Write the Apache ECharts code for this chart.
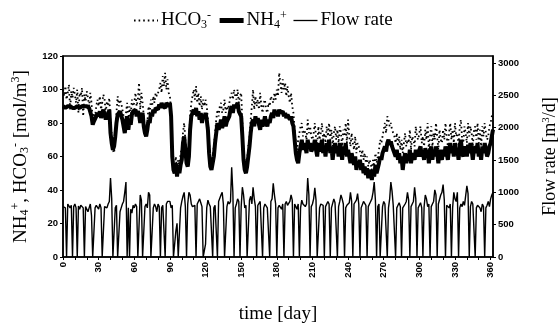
<!DOCTYPE html>
<html><head><meta charset="utf-8">
<script src="https://cdn.jsdelivr.net/npm/echarts@6/dist/echarts.min.js"></script>
<style>html,body{margin:0;padding:0;background:#fff}#c{width:560px;height:325px}</style>
</head><body><div id="c"></div>
<script>
// time [day] categories, one per day 0..362
const days = Array.from({length:363}, (_, i) => String(i));

// NH4+ [mol/m3], daily
const nh4 = [
  90,90,89,90,90,89,90,90,89,90,
  89,90,90,89,89,90,90,89,90,89,
  90,89,89,90,84,79,81,80,84,86,
  84,87,83,86,88,85,82,86,84,88,
  74,68,64,66,72,80,85,84,87,86,
  82,78,74,80,84,76,82,79,85,87,
  86,88,84,87,85,80,84,86,78,74,
  72,76,82,80,86,84,88,86,89,90,
  88,91,89,92,90,91,89,92,91,90,
  92,84,60,52,50,56,48,54,50,55,
  58,68,72,64,56,54,60,76,84,86,
  88,85,89,84,87,82,86,80,85,83,
  86,82,76,62,54,52,56,60,68,74,
  80,76,78,82,77,80,84,78,81,80,
  84,88,90,86,91,89,88,92,87,86,
  84,72,58,52,50,54,60,66,74,80,
  82,78,84,80,83,79,76,82,78,80,
  84,80,78,82,80,84,86,83,88,85,
  87,84,88,86,85,87,84,86,83,85,
  86,82,84,80,78,70,62,58,56,62,
  66,70,64,68,66,62,70,65,68,63,
  62,66,70,64,60,68,63,66,70,62,
  66,60,68,64,70,62,66,58,64,68,
  62,66,60,68,64,58,66,62,68,60,
  64,60,56,62,58,55,60,52,57,54,
  58,52,56,50,54,49,53,47,52,50,
  46,52,48,55,50,53,56,60,58,62,
  64,66,63,68,70,67,69,66,64,62,
  60,64,58,62,56,60,52,58,62,56,
  60,58,64,56,62,60,58,64,62,60,
  64,66,60,62,58,65,60,64,56,62,
  66,58,64,60,66,62,56,64,60,58,
  64,60,66,62,58,64,68,62,66,60,
  68,62,64,58,66,70,62,60,66,64,
  60,67,62,68,64,58,64,66,62,68,
  60,64,58,66,62,68,64,60,62,66,
  68,72,76];

// HCO3- [mol/m3], daily
const hco3 = [
  100,96,102,94,98,103,88,99,95,101,
  97,92,100,86,98,96,101,84,97,93,
  99,95,90,98,92,82,86,84,90,94,
  90,96,88,92,97,94,86,93,90,95,
  80,72,64,62,70,86,96,90,94,92,
  88,84,76,86,92,80,90,84,94,90,
  92,98,90,94,104,88,98,92,84,76,
  74,80,90,86,94,90,96,92,98,96,
  95,100,104,98,108,102,110,100,106,98,
  96,88,64,56,52,60,50,58,54,62,
  64,74,80,70,62,58,66,84,92,96,
  100,94,102,92,98,90,96,88,94,90,
  94,90,82,68,58,56,60,66,74,82,
  88,84,90,92,86,88,94,86,90,88,
  92,96,98,94,100,96,94,100,92,96,
  98,80,62,56,54,58,66,72,82,90,
  100,88,96,90,94,88,98,90,86,92,
  94,88,86,92,90,96,94,92,98,94,
  100,96,110,104,98,106,100,104,96,102,
  96,92,98,90,86,76,68,64,70,74,
  78,80,72,76,74,70,82,74,78,72,
  70,74,80,72,66,78,70,74,80,70,
  74,68,78,72,80,70,76,66,74,78,
  70,76,68,78,74,66,76,72,80,68,
  82,72,66,74,68,64,72,62,68,66,
  66,60,64,58,62,56,60,54,58,56,
  52,58,54,62,56,60,64,70,68,72,
  76,80,74,84,82,78,80,76,74,72,
  68,74,66,72,64,70,62,68,74,66,
  70,68,76,64,72,70,66,78,72,70,
  74,78,68,72,66,76,70,80,64,72,
  78,66,74,70,80,72,64,76,70,68,
  76,70,80,72,66,74,80,70,76,68,
  80,72,74,66,78,82,70,68,78,74,
  68,80,72,78,74,66,76,78,70,80,
  68,76,66,78,72,80,74,70,72,78,
  80,84,86];

// Flow rate [m3/d], daily
const flow = [
  780,800,760,0,820,790,760,800,0,780,
  820,760,0,790,740,800,820,760,0,780,
  810,700,760,820,640,0,0,760,800,780,
  740,820,760,0,0,780,800,760,820,860,
  1220,900,0,0,760,800,0,0,700,760,
  820,860,1000,1160,0,760,0,740,680,800,
  760,820,780,0,0,960,880,0,0,780,
  820,760,1000,960,0,0,760,820,780,700,
  820,780,0,760,800,780,0,820,860,840,
  860,760,800,0,0,400,520,0,0,760,
  860,940,1000,780,0,820,1000,960,820,780,
  760,800,0,820,860,900,840,780,0,0,
  200,760,880,820,780,760,0,760,800,780,
  0,860,880,960,1000,820,0,0,780,860,
  820,860,1390,1000,0,760,820,900,860,0,
  780,1080,960,760,800,0,0,880,940,820,
  1080,900,780,0,800,780,860,840,0,760,
  820,800,760,780,0,860,900,1140,960,820,
  0,760,800,780,740,820,0,820,860,800,
  780,860,960,880,0,820,780,740,820,0,
  760,880,820,800,780,820,1220,960,0,780,
  820,900,1070,880,0,0,760,820,840,800,
  0,780,800,860,820,0,760,780,900,840,
  820,0,780,860,960,900,820,0,760,800,
  780,840,1000,860,0,820,840,880,980,820,
  0,760,780,860,840,800,0,780,820,860,
  900,1000,1160,880,0,780,820,0,0,780,
  860,820,800,0,760,900,1160,1020,800,820,
  0,760,800,840,780,0,760,780,820,860,
  1000,880,0,780,820,860,1080,900,0,760,
  800,840,760,0,780,960,900,780,820,0,
  780,820,860,1040,960,0,820,840,960,1000,
  1120,880,0,800,780,760,820,0,760,1000,
  900,860,1000,0,760,820,780,860,800,820,
  1100,980,0,780,860,820,800,0,760,800,
  820,760,700,820,780,0,760,800,860,780,
  900,960,1000];

const leftTicks = {min:0, max:120, interval:20};
const rightTicks = {min:0, max:3110, interval:500};

const serif = '"Liberation Serif", "DejaVu Serif", serif';
const sans = '"Liberation Sans", Arial, sans-serif';

const richMain = (fs) => ({
  n: {fontFamily: serif, fontSize: fs, color: '#000'},
  sb: {fontFamily: serif, fontSize: Math.round(fs*0.62), color: '#000', verticalAlign: 'bottom', padding: [Math.round(fs*0.45),0,0,0]},
  sp: {fontFamily: serif, fontSize: Math.round(fs*0.62), color: '#000', verticalAlign: 'top'}
});

const legendNames = {
  HCO3: '{n|HCO}{sb|3}{sp|-}',
  NH4: '{n|NH}{sb|4}{sp|+}',
  Flow: '{n|Flow rate}'
};

const chart = echarts.init(document.getElementById('c'));
chart.setOption({
  animation: false,
  backgroundColor: '#fff',
  legend: {
    top: 5, left: 128,
    itemWidth: 24, itemHeight: 10, itemGap: 6,
    data: [
      {name: 'HCO3'},
      {name: 'NH4', lineStyle: {width: 5}},
      {name: 'Flow', lineStyle: {width: 1.3}}
    ],
    formatter: name => legendNames[name],
    itemStyle: {color: 'transparent', borderColor: 'transparent', borderWidth: 0, opacity: 0},
    textStyle: {color: '#000', fontFamily: serif, fontSize: 19, padding: [0,0,0,-2], rich: richMain(19)}
  },
  grid: {left: 63, right: 67, top: 56, bottom: 68, show: true, borderColor: '#000', borderWidth: 1.5,
    containLabel: false, outerBoundsMode: 'none'},
  xAxis: {
    type: 'category', data: days, boundaryGap: false,
    axisLine: {lineStyle: {color: '#000', width: 1.5}},
    axisTick: {interval: (i, v) => (+v) % 10 === 0, length: 3, lineStyle: {color: '#000'}},
    axisLabel: {interval: (i, v) => (+v) % 30 === 0, rotate: 90, fontFamily: sans, fontWeight: 'bold', fontSize: 9.5, color: '#000', margin: 5},
    splitLine: {show: false},
    name: 'time [day]', nameLocation: 'middle', nameGap: 48,
    nameTextStyle: {fontFamily: serif, fontSize: 19, color: '#000'}
  },
  yAxis: [
    {
      type: 'value', min: leftTicks.min, max: leftTicks.max, interval: leftTicks.interval,
      splitLine: {show: false},
      axisLine: {show: true, lineStyle: {color: '#000', width: 1.5}},
      axisTick: {show: true, length: 3, lineStyle: {color: '#000'}},
      axisLabel: {fontFamily: sans, fontWeight: 'bold', fontSize: 9.5, color: '#000', margin: 5},
      name: '{n|NH}{sb|4}{sp|+}{n|, HCO}{sb|3}{sp|-}{n| [mol/m}{sp|3}{n|]}',
      nameLocation: 'middle', nameGap: 31,
      nameTextStyle: {rich: richMain(19)}
    },
    {
      type: 'value', position: 'right', min: rightTicks.min, max: rightTicks.max, interval: rightTicks.interval,
      splitLine: {show: false},
      axisLine: {show: true, lineStyle: {color: '#000', width: 1.5}},
      axisTick: {show: true, length: 3, lineStyle: {color: '#000'}},
      axisLabel: {fontFamily: sans, fontWeight: 'bold', fontSize: 9.5, color: '#000', margin: 5, showMaxLabel: false,
        formatter: v => String(v)},
      name: '{n|Flow rate [m}{sp|3}{n|/d]}',
      nameLocation: 'middle', nameGap: 48, nameRotate: 90,
      nameTextStyle: {rich: richMain(18)}
    }
  ],
  series: [
    {name: 'HCO3', type: 'line', data: hco3, symbol: 'none', z: 2,
      lineStyle: {type: [1.6, 3], width: 1.8, color: '#000'}, itemStyle: {color: '#000'}},
    {name: 'NH4', type: 'line', data: nh4, symbol: 'none', z: 3,
      lineStyle: {width: 4, color: '#000'}, itemStyle: {color: '#000'}},
    {name: 'Flow', type: 'line', yAxisIndex: 1, data: flow, symbol: 'none', z: 1,
      lineStyle: {width: 1.4, color: '#000'}, itemStyle: {color: '#000'}}
  ]
});
</script></body></html>
